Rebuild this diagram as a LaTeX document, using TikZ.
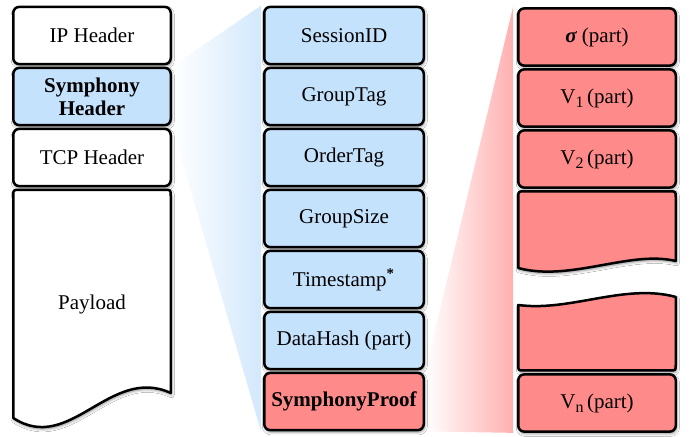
\documentclass[tikz,border=0pt]{standalone}
\usepackage{fontspec}
\setmainfont{Liberation Serif}
\usetikzlibrary{shadows,shadows.blur}
\definecolor{boxblue}{RGB}{197,226,252}
\definecolor{boxred}{RGB}{255,138,138}
\definecolor{shblue}{RGB}{210,232,252}
\definecolor{shred}{RGB}{255,176,176}
\pgfdeclarelayer{background}
\pgfsetlayers{background,main}
\newcommand{\lowsub}[1]{\raisebox{-0.45ex}{\fontsize{8}{8}\selectfont #1}}
\tikzset{
  myshadow/.style={blur shadow={shadow xshift=0.4pt, shadow yshift=-1pt, shadow blur radius=1.4pt, shadow opacity=45}},
  fieldbox/.style={draw=black, line width=1.25pt, rounded corners=3pt, minimum height=28.6pt,
    align=center, inner sep=1pt, font=\fontsize{10.5}{11.5}\selectfont, myshadow},
  leftbox/.style={fieldbox, minimum width=78.75pt, fill=white},
  midbox/.style={fieldbox, minimum width=79.75pt, fill=boxblue},
  rightbox/.style={fieldbox, minimum width=78.75pt, fill=boxred},
  wavy/.style={draw=black, line width=1.25pt, line join=round, myshadow},
  lbl/.style={font=\fontsize{10.5}{11.5}\selectfont, align=center}
}
\begin{document}
\begin{tikzpicture}[x=0.5pt,y=-0.5pt]
\useasboundingbox (0,0) rectangle (689,437);
% left column
\node[leftbox] (ip) at (92,35.5) {IP Header};
\node[leftbox, fill=boxblue] (hdr) at (92,96.5) {\bfseries Symphony\\\bfseries Header};
\node[leftbox] (tcp) at (92,157.5) {TCP Header};
\path[wavy, fill=white] (13.25,418) -- (13.25,195.9) .. controls (13.25,189.9) .. (19.25,189.9)
  -- (164.75,189.9) .. controls (170.75,189.9) .. (170.75,195.9) -- (170.75,393)
  .. controls (110,365) and (70,455) .. (13.25,418) -- cycle;
\node[lbl] (pl) at (92,304) {Payload};
% middle column
\node[midbox] (sid) at (344,35.5) {SessionID};
\node[midbox] (gtag) at (344,96.5) {GroupTag};
\node[midbox] (otag) at (344,157.5) {OrderTag};
\node[midbox] (gsize) at (344,218.5) {GroupSize};
\node[midbox] (ts) at (344,279.5) {Timestamp\textsuperscript{\bfseries *}};
\node[midbox] (dh) at (344,340.5) {DataHash (part)};
\node[midbox, fill=boxred] (proof) at (344,401.5) {\bfseries SymphonyProof};
% right column
\node[rightbox] (sig) at (597,37) {{\bfseries\itshape σ} (part)};
\node[rightbox] (v1) at (597,98) {V\lowsub{1}\,(part)};
\node[rightbox] (v2) at (597,159) {V\lowsub{2}\,(part)};
\path[wavy, fill=boxred] (518.25,268) -- (518.25,197.4) .. controls (518.25,191.4) .. (524.25,191.4)
  -- (669.75,191.4) .. controls (675.75,191.4) .. (675.75,197.4) -- (675.75,261)
  .. controls (630,250) and (570,282) .. (518.25,268) -- cycle;
\path[wavy, fill=boxred] (518.25,305) .. controls (570,312) and (625,283) .. (675.75,297)
  -- (675.75,364.5) .. controls (675.75,370.5) .. (669.75,370.5)
  -- (524.25,370.5) .. controls (518.25,370.5) .. (518.25,364.5) -- cycle;
\node[rightbox] (vn) at (597,403) {V\lowsub{n}\,(part)};
% zoom trapezoids
\begin{pgfonlayer}{background}
  \fill[white] (0,0) rectangle (689,437);
  \shade[left color=white, right color=shblue] (hdr.north east) -- ([xshift=-1pt]sid.north west)
    -- ([xshift=-1pt]proof.south west) -- (hdr.south east) -- cycle;
  \shade[left color=white, right color=shred] (proof.north east) -- ([xshift=-2pt]sig.north west)
    -- ([xshift=-2pt]vn.south west) -- (proof.south east) -- cycle;
\end{pgfonlayer}
\end{tikzpicture}
\end{document}
